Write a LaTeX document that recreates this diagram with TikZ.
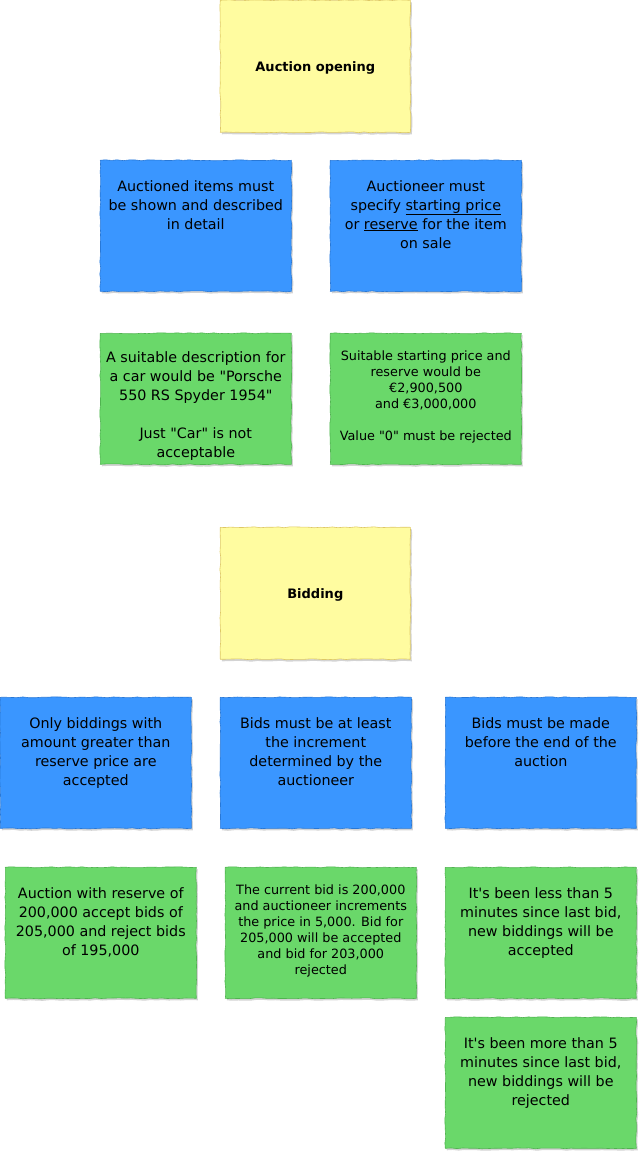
\documentclass[tikz,border=0pt]{standalone}
\usepackage{fontspec}
\setmainfont{DejaVu Sans}[Ligatures=TeXOff]
\usetikzlibrary{positioning,shadows,decorations.pathmorphing}

\definecolor{noteyellow}{RGB}{255,252,160}
\definecolor{noteyellowline}{RGB}{222,200,100}
\definecolor{noteblue}{RGB}{58,150,255}
\definecolor{noteblueline}{RGB}{40,120,215}
\definecolor{notegreen}{RGB}{106,216,106}
\definecolor{notegreenline}{RGB}{80,180,80}

\tikzset{
  sticky/.style={draw, line width=0.6pt, anchor=north west, inner sep=0pt,
    decorate, decoration={random steps,segment length=6pt,amplitude=0.5pt},
    drop shadow={shadow xshift=1.5pt,shadow yshift=-2pt,opacity=0.35}},
  yellownote/.style={sticky, fill=noteyellow, draw=noteyellowline,
    minimum width=190pt, minimum height=132pt},
  bluenote/.style={sticky, fill=noteblue, draw=noteblueline,
    minimum width=191pt, minimum height=131pt},
  greennote/.style={sticky, fill=notegreen, draw=notegreenline,
    minimum width=191pt, minimum height=131pt},
  titletext/.style={align=center, inner sep=0pt, font=\bfseries\fontsize{13}{15}\selectfont},
  notetext/.style={anchor=north, align=center, inner sep=0pt, font=\fontsize{14.3}{19}\selectfont},
  smalltext/.style={notetext, font=\fontsize{12.8}{16}\selectfont}
}

\begin{document}
\begin{tikzpicture}[x=1pt,y=-1pt]
\useasboundingbox (0,0) rectangle (638,1154);

% auction opening
\node[yellownote] (open) at (220,0) {};
\node[titletext] (opentxt) at ([yshift=-2pt]open.center) {Auction opening};

\node[bluenote] (shown) at (100,160) {};
\node[notetext] (showntxt) at ([yshift=-20pt]shown.north) {Auctioned items must\\be shown and described\\in detail};
\node[bluenote] (price) at (330,160) {};
\node[notetext] (pricetxt) at ([yshift=-20pt]price.north) {Auctioneer must\\specify \underline{starting price}\\or \underline{reserve} for the item\\on sale};

\node[greennote] (porsche) at (100,333) {};
\node[notetext] (porschetxt) at ([yshift=-18pt]porsche.north) {A suitable description for\\a car would be "Porsche\\550 RS Spyder 1954"\\[19pt]Just "Car" is not\\acceptable};
\node[greennote] (euro) at (330,333) {};
\node[smalltext] (eurotxt) at ([yshift=-18pt]euro.north) {Suitable starting price and\\reserve would be\\€2,900,500\\and €3,000,000\\[16pt]Value "0" must be rejected};

% bidding
\node[yellownote] (bid) at (220,527) {};
\node[titletext] (bidtxt) at ([yshift=-2pt]bid.center) {Bidding};

\node[bluenote] (reserve) at (0,697) {};
\node[notetext] (reservetxt) at ([yshift=-20pt]reserve.north) {Only biddings with\\amount greater than\\reserve price are\\accepted};
\node[bluenote] (incr) at (220,697) {};
\node[notetext] (incrtxt) at ([yshift=-20pt]incr.north) {Bids must be at least\\the increment\\determined by the\\auctioneer};
\node[bluenote] (end) at (445,697) {};
\node[notetext] (endtxt) at ([yshift=-20pt]end.north) {Bids must be made\\before the end of the\\auction};

\node[greennote] (ex1) at (5,867) {};
\node[notetext] (ex1txt) at ([yshift=-20pt]ex1.north) {Auction with reserve of\\200,000 accept bids of\\205,000 and reject bids\\of 195,000};
\node[greennote] (ex2) at (225,867) {};
\node[smalltext] (ex2txt) at ([yshift=-18pt]ex2.north) {The current bid is 200,000\\and auctioneer increments\\the price in 5,000. Bid for\\205,000 will be accepted\\and bid for 203,000\\rejected};
\node[greennote] (ex3) at (445,867) {};
\node[notetext] (ex3txt) at ([yshift=-20pt]ex3.north) {It's been less than 5\\minutes since last bid,\\new biddings will be\\accepted};
\node[greennote] (ex4) at (445,1017) {};
\node[notetext] (ex4txt) at ([yshift=-20pt]ex4.north) {It's been more than 5\\minutes since last bid,\\new biddings will be\\rejected};

\end{tikzpicture}
\end{document}
